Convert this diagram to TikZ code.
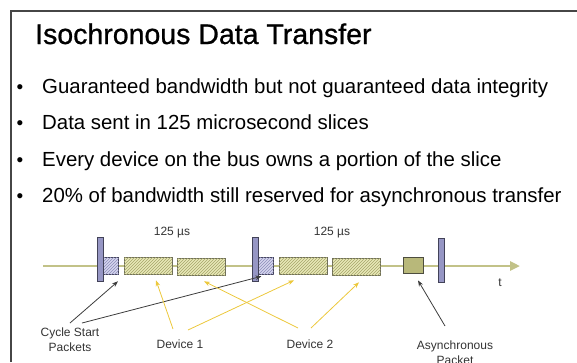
\documentclass[tikz,border=0pt]{standalone}
\usepackage{fontspec}
\setmainfont{Liberation Sans}
\newfontfamily\titlefont[FakeBold=0.8]{Liberation Sans}
\usetikzlibrary{arrows.meta,patterns}

\definecolor{frameline}{RGB}{70,70,70}
\definecolor{busline}{RGB}{194,194,136}
\definecolor{barfill}{RGB}{150,150,196}
\definecolor{barline}{RGB}{66,66,88}
\definecolor{csfill}{RGB}{214,214,238}
\definecolor{cshatch}{RGB}{140,140,185}
\definecolor{devfill}{RGB}{232,232,184}
\definecolor{devhatch}{RGB}{165,165,105}
\definecolor{devline}{RGB}{110,110,90}
\definecolor{asyfill}{RGB}{184,184,122}
\definecolor{yelarrow}{RGB}{236,200,60}
\definecolor{blkarrow}{RGB}{60,60,60}

\tikzset{
  bus/.style={busline, line width=2.5pt, -{Triangle[length=10pt,width=9pt]}},
  startbar/.style={draw=barline, fill=barfill, line width=0.8pt, minimum width=6pt, minimum height=44pt, inner sep=0pt},
  csbox/.style={draw=barline, line width=0.6pt, fill=csfill, postaction={pattern=north east lines, pattern color=cshatch}, minimum width=16pt, minimum height=17pt, inner sep=0pt},
  devbox/.style={draw=devline, line width=0.6pt, fill=devfill, postaction={pattern=north east lines, pattern color=devhatch}, minimum width=48pt, minimum height=17pt, inner sep=0pt},
  asybox/.style={draw=devline!70!black, line width=0.8pt, fill=asyfill, minimum width=20pt, minimum height=16pt, inner sep=0pt},
  lbl/.style={inner sep=0pt, align=center, text=black!80, font=\fontsize{12}{14.5}\selectfont},
  itemtext/.style={anchor=base west, inner sep=0pt, font=\fontsize{20.4}{24}\selectfont},
  yel/.style={yelarrow, line width=0.8pt, -{Stealth[length=6pt,width=4.5pt]}},
  blk/.style={blkarrow, line width=0.8pt, -{Stealth[length=6pt,width=4.5pt]}}
}

\begin{document}
\begin{tikzpicture}[x=1pt,y=-1pt]
\useasboundingbox (0,0) rectangle (577,362);
\draw[frameline, line width=1.5pt] (11,362) -- (11,11) -- (577,11);

\node[anchor=base west, inner sep=0pt, font=\titlefont\fontsize{28.5}{32}\selectfont] (title) at (35,44) {Isochronous Data Transfer};

\foreach \txt [count=\i] in {Guaranteed bandwidth but not guaranteed data integrity,
    Data sent in 125 microsecond slices,
    Every device on the bus owns a portion of the slice,
    20\% of bandwidth still reserved for asynchronous transfer} {
  \pgfmathsetmacro\yb{93.5+36.3*(\i-1)}
  \node[anchor=base, inner sep=0pt, font=\fontsize{19}{20}\selectfont] (bullet\i) at (20,\yb) {•};
  \node[itemtext] (item\i) at (42,\yb) {\txt};
}

\coordinate (busstart) at (43,266);
\coordinate (busend) at (520,266);
\draw[bus] (busstart) -- (busend);

\node[csbox] (cs1) at (110.5,265.5) {};
\node[csbox] (cs2) at (265.5,265.5) {};
\node[devbox] (d1a) at (148,265.5) {};
\node[devbox] (d2a) at (201,266.5) {};
\node[devbox] (d1b) at (303,265.5) {};
\node[devbox] (d2b) at (356.5,266.5) {};
\node[asybox] (asy) at (413,265) {};
\node[startbar] (bar1) at (100,259.5) {};
\node[startbar] (bar2) at (255,259.5) {};
\node[startbar] (bar3) at (441,260) {};

\node[lbl] (slot1) at (172,233) {125 µs};
\node[lbl] (slot2) at (332,233) {125 µs};
\node[lbl] (tlbl) at (500,283) {t};

\node[lbl, anchor=north] (cyc) at (70,328) {Cycle Start\\Packets};
\node[lbl, anchor=north] (dv1) at (180,340) {Device 1};
\node[lbl, anchor=north] (dv2) at (310,340) {Device 2};
\node[lbl, anchor=north] (asylbl) at (455,341) {Asynchronous\\Packet};

\draw[blk] ([shift={(0,-5)}]cyc.north) -- ([shift={(7.5,7)}]cs1.south);
\draw[blk] ([shift={(12,-5)}]cyc.north) -- ([shift={(-4,2)}]cs2.south);
\draw[blk] ([shift={(-10,-15)}]asylbl.north) -- ([shift={(5,7)}]asy.south);
\draw[yel] ([shift={(-7,-11)}]dv1.north) -- ([shift={(8,6)}]d1a.south);
\draw[yel] ([shift={(8,-10)}]dv1.north) -- ([shift={(-9,6)}]d1b.south);
\draw[yel] ([shift={(-12,-12)}]dv2.north) -- ([shift={(3,6)}]d2a.south);
\draw[yel] ([shift={(1,-12)}]dv2.north) -- ([shift={(2.5,7)}]d2b.south);
\end{tikzpicture}
\end{document}
